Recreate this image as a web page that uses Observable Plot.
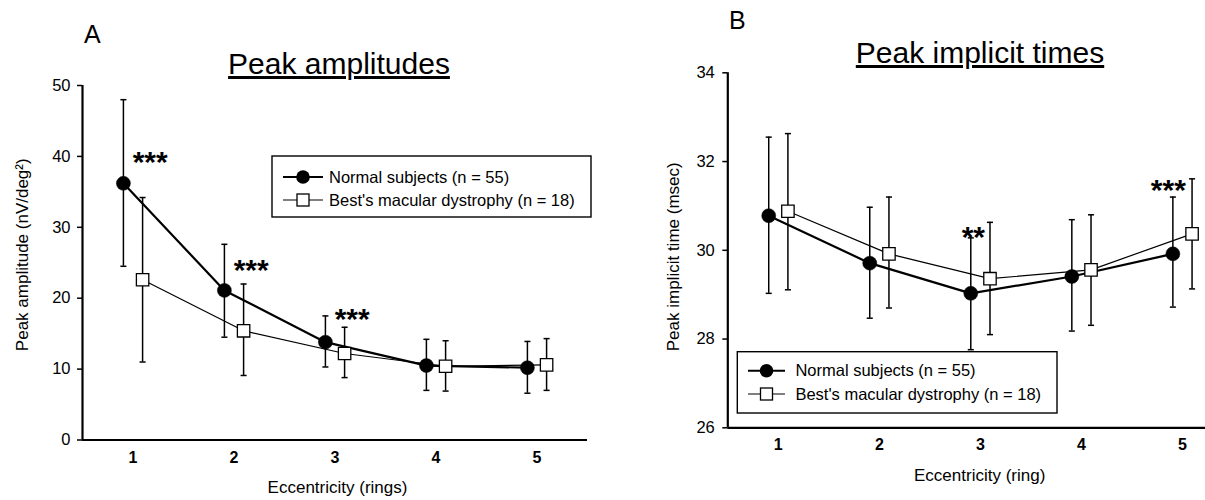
<!DOCTYPE html>
<html>
<head>
<meta charset="utf-8">
<script src="https://cdn.jsdelivr.net/npm/d3@7"></script>
<script src="https://cdn.jsdelivr.net/npm/@observablehq/plot@0.6"></script>
<style>
  html, body { margin: 0; padding: 0; background: #fff; }
  #wrap { display: flex; width: 1205px; height: 500px; overflow: hidden; background: #fff; }
  #wrap svg { display: block; }
</style>
</head>
<body>
<div id="wrap"></div>
<script>
// ---------- data ----------
const rings = [1, 2, 3, 4, 5];
const seriesNames = ["Normal subjects (n = 55)", "Best's macular dystrophy (n = 18)"];

// Panel A: peak amplitudes (nV/deg²), mean with error bar limits
const ampTicks = [0, 10, 20, 30, 40, 50];
const ampNormalMean = [36.2, 21.1, 13.8, 10.5, 10.2];
const ampNormalHi   = [48.0, 27.6, 17.5, 14.2, 13.9];
const ampNormalLo   = [24.5, 14.5, 10.3, 7.0, 6.6];
const ampBestMean   = [22.6, 15.4, 12.2, 10.4, 10.6];
const ampBestHi     = [34.2, 22.0, 15.9, 14.0, 14.3];
const ampBestLo     = [11.0, 9.1, 8.8, 6.9, 7.0];
const ampStarX      = [1.17, 2.17, 3.17];
const ampStarY      = [40.1, 24.9, 18.0];
const ampStarLabel  = ["***", "***", "***"];

// Panel B: peak implicit times (msec)
const timeTicks = [26, 28, 30, 32, 34];
const timeNormalMean = [30.78, 29.71, 29.03, 29.41, 29.92];
const timeNormalHi   = [32.55, 30.97, 30.28, 30.69, 31.20];
const timeNormalLo   = [29.03, 28.47, 27.76, 28.18, 28.72];
const timeBestMean   = [30.88, 29.92, 29.36, 29.56, 30.37];
const timeBestHi     = [32.63, 31.20, 30.63, 30.80, 31.61];
const timeBestLo     = [29.11, 28.70, 28.10, 28.31, 29.13];
const timeStarX      = [2.93, 4.86];
const timeStarY      = [30.45, 31.50];
const timeStarLabel  = ["**", "***"];

// ---------- drawing ----------
const FAM = "'Liberation Sans', Arial, Helvetica, sans-serif";
const OFF = 0.095;   // horizontal dodge of the two groups
const CAP = 0.03;    // half width of error-bar caps (x units)

function decorations(cfg) {
  return () => {
    const g = d3.create("svg:g").attr("font-family", FAM).attr("fill", "black");
    // panel letter
    g.append("text").attr("x", cfg.letter.x).attr("y", cfg.letter.y)
      .attr("text-anchor", "start").attr("font-size", 25).text(cfg.letter.text);
    // underlined title
    g.append("text").attr("x", cfg.title.x).attr("y", cfg.title.y)
      .attr("font-size", 30).attr("text-anchor", "middle")
      .style("text-decoration", "underline").text(cfg.title.text);
    // legend
    const L = cfg.legend;
    g.append("rect").attr("x", L.x).attr("y", L.y).attr("width", L.w).attr("height", L.h)
      .attr("fill", "white").attr("stroke", "black").attr("stroke-width", 1.4);
    const mx = (L.lx1 + L.lx2) / 2;
    // row 1: normal
    g.append("line").attr("x1", L.lx1).attr("x2", L.lx2).attr("y1", L.r1).attr("y2", L.r1)
      .attr("stroke", "black").attr("stroke-width", 2);
    g.append("circle").attr("cx", mx).attr("cy", L.r1).attr("r", 6.8).attr("fill", "black");
    g.append("text").attr("x", L.tx).attr("y", L.r1).attr("dy", "0.35em")
      .attr("text-anchor", "start").attr("font-size", 16.5).text(seriesNames[0]);
    // row 2: best
    g.append("line").attr("x1", L.lx1).attr("x2", L.lx2).attr("y1", L.r2).attr("y2", L.r2)
      .attr("stroke", "black").attr("stroke-width", 1.2);
    g.append("rect").attr("x", mx - 6).attr("y", L.r2 - 6).attr("width", 12).attr("height", 12)
      .attr("fill", "white").attr("stroke", "black").attr("stroke-width", 1.3);
    g.append("text").attr("x", L.tx).attr("y", L.r2).attr("dy", "0.35em")
      .attr("text-anchor", "start").attr("font-size", 16.5).text(seriesNames[1]);
    return g.node();
  };
}

function buildPanel(cfg) {
  const normal = rings.map((r, i) => ({x: r - OFF, m: cfg.nMean[i], lo: cfg.nLo[i], hi: cfg.nHi[i]}));
  const best = rings.map((r, i) => ({x: r + OFF, m: cfg.bMean[i], lo: cfg.bLo[i], hi: cfg.bHi[i]}));
  const both = normal.concat(best);
  const stars = cfg.starX.map((x, i) => ({x, y: cfg.starY[i], t: cfg.starLabel[i]}));
  return Plot.plot({
    width: cfg.width, height: 500,
    marginLeft: cfg.mL, marginRight: cfg.mR, marginTop: cfg.mT, marginBottom: cfg.mB,
    x: {domain: cfg.xDomain},
    y: {domain: cfg.yDomain},
    style: {fontFamily: FAM, background: "white", color: "black", overflow: "visible"},
    marks: [
      Plot.axisY({ticks: cfg.yTicks, tickSize: 5, tickPadding: cfg.yPad, tickFormat: d3.format("d"), fontSize: 16.5, strokeWidth: 1.5, label: null}),
      Plot.axisX({ticks: rings, tickSize: 0, tickPadding: cfg.xPad, tickFormat: d3.format("d"), fontSize: 16, fontWeight: "bold", label: null}),
      Plot.ruleX([cfg.xDomain[0]], {stroke: "black", strokeWidth: 2.2}),
      Plot.ruleY([cfg.yDomain[0]], {stroke: "black", strokeWidth: 2.2}),
      // error bars
      Plot.ruleX(both, {x: "x", y1: "lo", y2: "hi", stroke: "black", strokeWidth: 1.5}),
      Plot.link(both, {x1: d => d.x - CAP, x2: d => d.x + CAP, y1: "hi", y2: "hi", stroke: "black", strokeWidth: 1.5}),
      Plot.link(both, {x1: d => d.x - CAP, x2: d => d.x + CAP, y1: "lo", y2: "lo", stroke: "black", strokeWidth: 1.5}),
      // connecting lines
      Plot.line(normal, {x: "x", y: "m", stroke: "black", strokeWidth: 2.2}),
      Plot.line(best, {x: "x", y: "m", stroke: "black", strokeWidth: 1.2}),
      // markers
      Plot.dot(normal, {x: "x", y: "m", r: 7, fill: "black", stroke: "black", strokeWidth: 0.5}),
      Plot.dot(best, {x: "x", y: "m", r: 7, symbol: "square", fill: "white", stroke: "black", strokeWidth: 1.3}),
      // significance marks
      Plot.text(stars, {x: "x", y: "y", text: "t", fontSize: 30, fontWeight: "bold", dy: 7}),
      // axis labels
      Plot.text([cfg.xLabel], {frameAnchor: "bottom", textAnchor: "middle", lineAnchor: "middle", dx: cfg.xLabDx, dy: cfg.xLabDy, fontSize: 17}),
      Plot.text([cfg.yLabel], {frameAnchor: "left", textAnchor: "middle", lineAnchor: "middle", rotate: -90, dx: cfg.yLabDx, dy: cfg.yLabDy, fontSize: 17}),
      decorations(cfg.deco)
    ]
  });
}

const panelA = buildPanel({
  width: 600, mL: 82, mR: 13, mT: 85, mB: 60.5,
  xDomain: [0.5, 5.5], yDomain: [0, 50], yTicks: ampTicks, yPad: 7, xPad: 12,
  nMean: ampNormalMean, nLo: ampNormalLo, nHi: ampNormalHi,
  bMean: ampBestMean, bLo: ampBestLo, bHi: ampBestHi,
  starX: ampStarX, starY: ampStarY, starLabel: ampStarLabel,
  xLabel: "Eccentricity (rings)", xLabDx: 2.5, xLabDy: 48,
  yLabel: "Peak amplitude (nV/deg²)", yLabDx: -60, yLabDy: -8,
  deco: {
    letter: {x: 84, y: 43, text: "A"},
    title: {x: 339, y: 74, text: "Peak amplitudes"},
    legend: {x: 272, y: 156, w: 319, h: 61, r1: 177, r2: 200, lx1: 283, lx2: 323, tx: 329}
  }
});

const panelB = buildPanel({
  width: 605, mL: 127.3, mR: 0, mT: 72.3, mB: 72.7,
  xDomain: [0.5, 5.228], yDomain: [26, 34], yTicks: timeTicks, yPad: 8, xPad: 11,
  nMean: timeNormalMean, nLo: timeNormalLo, nHi: timeNormalHi,
  bMean: timeBestMean, bLo: timeBestLo, bHi: timeBestHi,
  starX: timeStarX, starY: timeStarY, starLabel: timeStarLabel,
  xLabel: "Eccentricity (ring)", xLabDx: 13, xLabDy: 47.4,
  yLabel: "Peak implicit time (msec)", yLabDx: -54, yLabDy: 6.5,
  deco: {
    letter: {x: 129, y: 29, text: "B"},
    title: {x: 380, y: 63, text: "Peak implicit times"},
    legend: {x: 137.3, y: 351.7, w: 319.7, h: 61.3, r1: 370.7, r2: 394, lx1: 148, lx2: 185, tx: 195.4}
  }
});

const wrap = document.getElementById("wrap");
wrap.appendChild(panelA);
wrap.appendChild(panelB);
</script>
</body>
</html>
